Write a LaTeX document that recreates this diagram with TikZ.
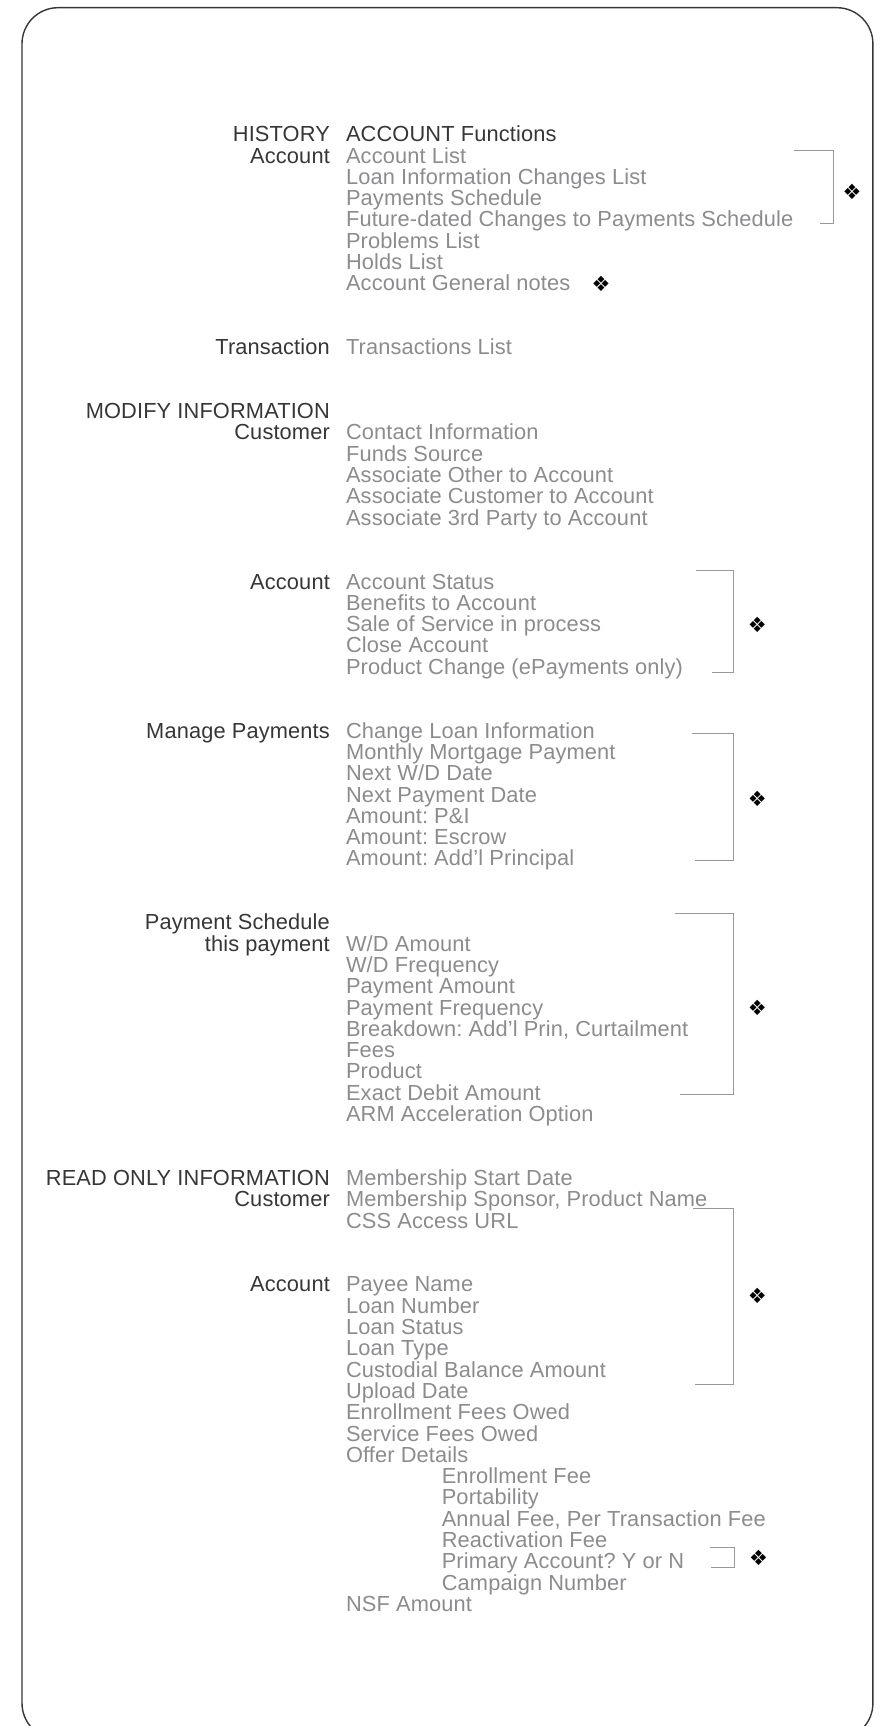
\documentclass[tikz,border=0pt]{standalone}
\usepackage{xcolor}
\usepackage{fontspec}
\setmainfont{Liberation Sans}[LetterSpace=0.6]
\newfontfamily\dingfont{DejaVu Sans}
\frenchspacing

\definecolor{headgray}{HTML}{363636}
\definecolor{itemgray}{HTML}{8C8C8F}
\definecolor{rulegray}{HTML}{999999}

\tikzset{
  lbl/.style={anchor=base east, inner sep=0pt, text=headgray, font=\fontsize{10.9}{12}\selectfont},
  itm/.style={anchor=base west, inner sep=0pt, text=itemgray, font=\fontsize{10.9}{12}\selectfont},
  hd/.style={itm, text=headgray},
  dmnd/.style={inner sep=0pt, text=black, font=\dingfont\fontsize{10.5}{12}\selectfont},
  brk/.style={draw=rulegray, line width=0.5pt},
}

\begin{document}
\begin{tikzpicture}[x=0.55pt,y=-0.55pt]
            \useasboundingbox (0,0) rectangle (802,1568);
            \draw[draw=headgray, line width=0.7pt, rounded corners=18pt] (20,7) rectangle (793,1580);
            % history
            \node[lbl] (hist) at (300,128.7) {HISTORY};
            \node[lbl] (lAccA) at (300,148.1) {Account};
            \node[lbl] (lTrans) at (300,322.2) {Transaction};
            \node[hd] (accFunc) at (314,128.7) {ACCOUNT Functions};
            \node[itm] (accList) at (314,148.1) {Account List};
            \node[itm] (loanChg) at (314,167.4) {Loan Information Changes List};
            \node[itm] (paySched) at (314,186.8) {Payments Schedule};
            \node[itm] (futChg) at (314,206.1) {Future-dated Changes to Payments Schedule};
            \node[itm] (probList) at (314,225.5) {Problems List};
            \node[itm] (holdList) at (314,244.8) {Holds List};
            \node[itm] (genNotes) at (314,264.2) {Account General notes};
            \node[itm] (transList) at (314,322.2) {Transactions List};
            \node[dmnd] (dA) at (774,174) {❖};
            \node[dmnd] (dB) at (546,258) {❖};
            \draw[brk] (721,137) -- (757,137) -- (757,203) -- (745,203);
            % modify information
            \node[lbl] (modify) at (300,380.3) {MODIFY INFORMATION};
            \node[lbl] (lCustA) at (300,399.6) {Customer};
            \node[itm] (contact) at (314,399.6) {Contact Information};
            \node[itm] (funds) at (314,419.0) {Funds Source};
            \node[itm] (assOther) at (314,438.3) {Associate Other to Account};
            \node[itm] (assCust) at (314,457.7) {Associate Customer to Account};
            \node[itm] (assThird) at (314,477.0) {Associate 3rd Party to Account};
            \node[lbl] (lAccB) at (300,535.1) {Account};
            \node[itm] (accStat) at (314,535.1) {Account Status};
            \node[itm] (benefits) at (314,554.4) {Benefits to Account};
            \node[itm] (saleServ) at (314,573.8) {Sale of Service in process};
            \node[itm] (closeAcc) at (314,593.1) {Close Account};
            \node[itm] (prodChg) at (314,612.5) {Product Change (ePayments only)};
            \node[dmnd] (dC) at (688,568) {❖};
            \draw[brk] (632,518) -- (666,518) -- (666,611) -- (647,611);
            \node[lbl] (lManage) at (300,670.5) {Manage Payments};
            \node[itm] (chgLoan) at (314,670.5) {Change Loan Information};
            \node[itm] (monthly) at (314,689.9) {Monthly Mortgage Payment};
            \node[itm] (nextWD) at (314,709.2) {Next W/D Date};
            \node[itm] (nextPay) at (314,728.6) {Next Payment Date};
            \node[itm] (amtPI) at (314,747.9) {Amount: P\&I};
            \node[itm] (amtEsc) at (314,767.3) {Amount: Escrow};
            \node[itm] (amtPrin) at (314,786.6) {Amount: Add’l Principal};
            \node[dmnd] (dD) at (688,726) {❖};
            \draw[brk] (629,666) -- (666,666) -- (666,782) -- (631,782);
            \node[lbl] (lPaySch) at (300,844.7) {Payment Schedule};
            \node[lbl] (lThis) at (300,864.0) {this payment};
            \node[itm] (wdAmt) at (314,864.0) {W/D Amount};
            \node[itm] (wdFreq) at (314,883.4) {W/D Frequency};
            \node[itm] (payAmt) at (314,902.7) {Payment Amount};
            \node[itm] (payFreq) at (314,922.1) {Payment Frequency};
            \node[itm] (breakdn) at (314,941.4) {Breakdown: Add’l Prin, Curtailment};
            \node[itm] (fees) at (314,960.8) {Fees};
            \node[itm] (product) at (314,980.1) {Product};
            \node[itm] (exactDeb) at (314,999.5) {Exact Debit Amount};
            \node[itm] (armOpt) at (314,1018.8) {ARM Acceleration Option};
            \node[dmnd] (dE) at (688,916) {❖};
            \draw[brk] (613,830) -- (666,830) -- (666,994) -- (618,994);
            % read only information
            \node[lbl] (readOnly) at (300,1076.9) {READ ONLY INFORMATION};
            \node[lbl] (lCustB) at (300,1096.2) {Customer};
            \node[itm] (memStart) at (314,1076.9) {Membership Start Date};
            \node[itm] (memSpons) at (314,1096.2) {Membership Sponsor, Product Name};
            \node[itm] (cssUrl) at (314,1115.6) {CSS Access URL};
            \node[lbl] (lAccC) at (300,1173.6) {Account};
            \node[itm] (payee) at (314,1173.6) {Payee Name};
            \node[itm] (loanNum) at (314,1193.0) {Loan Number};
            \node[itm] (loanStat) at (314,1212.3) {Loan Status};
            \node[itm] (loanType) at (314,1231.7) {Loan Type};
            \node[itm] (custBal) at (314,1251.0) {Custodial Balance Amount};
            \node[itm] (upload) at (314,1270.4) {Upload Date};
            \node[itm] (enrOwed) at (314,1289.7) {Enrollment Fees Owed};
            \node[itm] (servOwed) at (314,1309.1) {Service Fees Owed};
            \node[itm] (offer) at (314,1328.4) {Offer Details};
            \node[itm] (enrFee) at (401,1347.8) {Enrollment Fee};
            \node[itm] (portab) at (401,1367.1) {Portability};
            \node[itm] (annFee) at (401,1386.5) {Annual Fee, Per Transaction Fee};
            \node[itm] (reactFee) at (401,1405.8) {Reactivation Fee};
            \node[itm] (primAcc) at (401,1425.2) {Primary Account? Y or N};
            \node[itm] (campNum) at (401,1444.5) {Campaign Number};
            \node[itm] (nsfAmt) at (314,1463.9) {NSF Amount};
            \node[dmnd] (dF) at (688,1177) {❖};
            \node[dmnd] (dG) at (689,1415) {❖};
            \draw[brk] (630,1098) -- (666,1098) -- (666,1258) -- (631,1258);
            \draw[brk] (645,1406) -- (667,1406) -- (667,1424) -- (646,1424);
\end{tikzpicture}
\end{document}
